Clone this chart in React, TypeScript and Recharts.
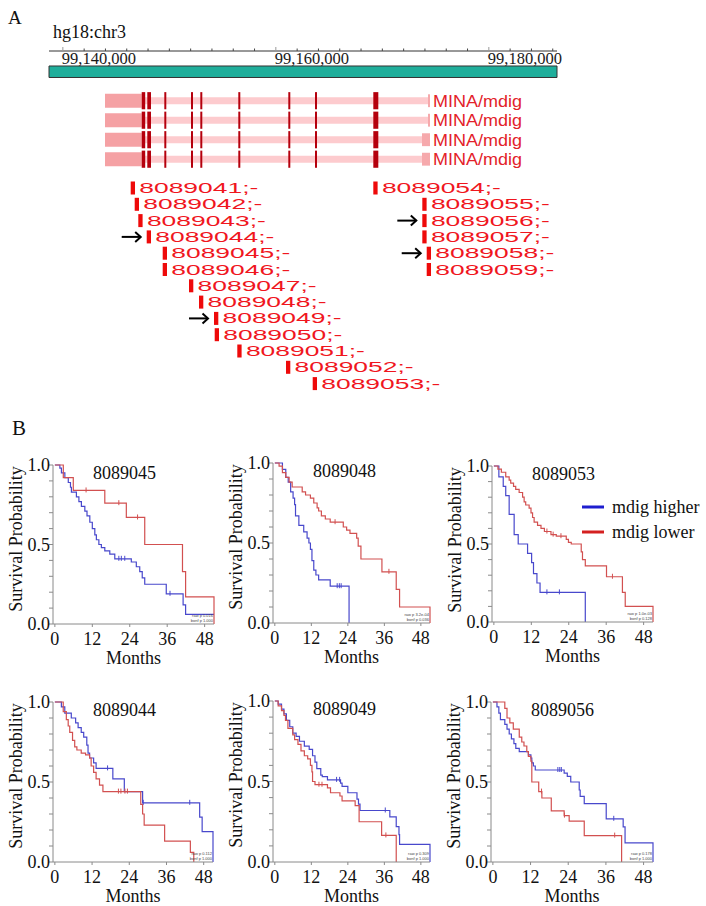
import React from 'react'
import { ComposedChart, Line, Scatter, XAxis, YAxis, ReferenceArea, Legend } from 'recharts'

const SERIF = '"Liberation Serif", "Times New Roman", serif'
const SANS = '"Liberation Sans", Arial, sans-serif'

// ---------------- panel A: genome browser ----------------
const regionStart = 99138700
const regionEnd = 99186400
const rulerTicks = [
  99140000, 99142000, 99144000, 99146000, 99148000, 99150000, 99152000, 99154000,
  99156000, 99158000, 99160000, 99162000, 99164000, 99166000, 99168000, 99170000,
  99172000, 99174000, 99176000, 99178000, 99180000, 99182000, 99184000, 99186000,
]
const rulerLabels = [99140000, 99160000, 99180000]

const txRows = [0, 1, 2, 3]
const txName = 'MINA/mdig'
const txIntron = [99147405, 99174288]
const txUtr5 = [99143958, 99147405]
const txUtr3 = [
  [99174288, 99174476],
  [99174288, 99174476],
  [99173724, 99174476],
  [99173724, 99174476],
]
const txExons = [
  [99147405, 99147733],
  [99147930, 99148278],
  [99149527, 99149715],
  [99152034, 99152222],
  [99152907, 99153095],
  [99156475, 99156663],
  [99161170, 99161358],
  [99163677, 99163865],
  [99169152, 99169622],
]

const probeIds = [
  '8089041', '8089042', '8089043', '8089044', '8089045', '8089046', '8089047',
  '8089048', '8089049', '8089050', '8089051', '8089052', '8089053',
  '8089054', '8089055', '8089056', '8089057', '8089058', '8089059',
]
const probeStart = [
  99146372, 99146747, 99147085, 99147874, 99149376, 99149376, 99151846,
  99152785, 99154194, 99154259, 99156381, 99160954, 99163461,
  99169152, 99173753, 99173753, 99173753, 99174166, 99174166,
]
const probeRow = [0, 1, 2, 3, 4, 5, 6, 7, 8, 9, 10, 11, 12, 0, 1, 2, 3, 4, 5]
const arrowProbes = ['8089044', '8089049', '8089056', '8089058']

// ---------------- panel B: Kaplan-Meier curves ----------------
const groupNames = ['mdig higher', 'mdig lower']
const curveColors = ['#4848cc', '#d25050']
const legendColors = ['#1e1ecf', '#d42020']
const monthTicks = [0, 12, 24, 36, 48]
const probTicks = [0, 0.1, 0.2, 0.3, 0.4, 0.5, 0.6, 0.7, 0.8, 0.9, 1]
const probLabels = ['0.0', '', '', '', '', '0.5', '', '', '', '', '1.0']

const km8089045 = {
  higher: [[0, 1], [1.6, 0.98], [2.1, 0.95], [3.2, 0.92], [4.3, 0.89], [5.0, 0.86], [5.3, 0.83], [6.9, 0.8], [7.7, 0.77], [8.5, 0.74], [9.6, 0.71], [10.3, 0.68], [11.2, 0.64], [12.0, 0.6], [12.8, 0.56], [13.3, 0.53], [14.1, 0.5], [14.9, 0.48], [16.0, 0.46], [17.6, 0.44], [19.2, 0.41], [24.5, 0.39], [26.1, 0.36], [27.2, 0.33], [28.0, 0.29], [28.8, 0.25], [35.7, 0.19], [41.1, 0.12], [41.9, 0.06], [51, 0.06]],
  lower: [[0, 1], [2.7, 0.92], [5.9, 0.84], [16.0, 0.76], [22.9, 0.67], [28.8, 0.5], [40.9, 0.33], [41.9, 0.17], [51, 0.17], [51, 0]],
  censHigher: [20.5, 21.3, 22.4, 36.9],
  censLower: [10, 20.5, 26.5],
}
const km8089048 = {
  higher: [[0, 1], [2.5, 0.96], [3.6, 0.91], [4.4, 0.88], [5.2, 0.82], [6.0, 0.78], [6.5, 0.74], [6.8, 0.67], [7.9, 0.61], [9.5, 0.57], [10.6, 0.53], [11.2, 0.5], [11.7, 0.46], [12.2, 0.39], [12.8, 0.33], [13.5, 0.3], [14.4, 0.27], [18.2, 0.23], [24.4, 0.23], [24.4, 0]],
  lower: [[0, 1], [1.4, 0.98], [2.5, 0.94], [3.6, 0.91], [4.7, 0.88], [5.7, 0.85], [9.0, 0.82], [10.1, 0.8], [11.7, 0.78], [12.8, 0.75], [13.9, 0.72], [14.4, 0.7], [15.3, 0.67], [16.6, 0.65], [18.2, 0.63], [22.5, 0.6], [23.6, 0.58], [24.7, 0.56], [26.9, 0.53], [27.4, 0.48], [28.3, 0.4], [35.2, 0.32], [39.9, 0.21], [41.0, 0.1], [51, 0.1], [51, 0]],
  censHigher: [20.5, 21.2, 21.8],
  censLower: [19.8, 37.5],
}
const km8089053 = {
  higher: [[0, 1], [1.6, 0.93], [3.0, 0.87], [3.8, 0.81], [4.9, 0.69], [6.5, 0.56], [7.8, 0.5], [10.8, 0.44], [12.1, 0.38], [12.7, 0.31], [13.8, 0.25], [14.8, 0.19], [29.3, 0.19], [29.3, 0]],
  lower: [[0, 1], [1.3, 0.98], [2.4, 0.96], [3.8, 0.93], [4.9, 0.91], [5.4, 0.89], [6.3, 0.87], [7.0, 0.85], [8.1, 0.83], [9.2, 0.8], [9.7, 0.77], [10.2, 0.75], [11.3, 0.73], [11.9, 0.7], [12.4, 0.67], [12.9, 0.64], [14.0, 0.62], [15.1, 0.6], [16.2, 0.58], [18.3, 0.56], [20.0, 0.55], [23.2, 0.53], [23.9, 0.51], [24.8, 0.5], [28.0, 0.45], [28.4, 0.4], [29.3, 0.36], [36.1, 0.29], [41.2, 0.19], [42.1, 0.1], [51, 0.1], [51, 0]],
  censHigher: [17, 21],
  censLower: [17, 19, 21.5, 38],
}
const km8089044 = {
  higher: [[0, 1], [2.1, 0.97], [3.2, 0.93], [5.3, 0.9], [6.7, 0.87], [7.5, 0.84], [8.5, 0.81], [9.3, 0.78], [10.3, 0.73], [10.7, 0.68], [11.2, 0.65], [12.5, 0.62], [13.3, 0.585], [18.7, 0.52], [22.4, 0.44], [28.3, 0.37], [46.7, 0.28], [47.5, 0.19], [51, 0.19], [51, 0]],
  lower: [[0, 1], [2.7, 0.94], [3.7, 0.89], [4.3, 0.85], [4.8, 0.81], [5.7, 0.76], [6.4, 0.72], [7.1, 0.7], [8.5, 0.68], [9.9, 0.67], [11.2, 0.65], [11.7, 0.6], [12.5, 0.56], [13.3, 0.52], [14.4, 0.48], [15.5, 0.44], [27.7, 0.36], [28.3, 0.3], [28.8, 0.23], [35.4, 0.13], [43.7, 0.06], [44.8, 0]],
  censHigher: [17, 28.5, 43.5],
  censLower: [20.5, 21.3, 22.6, 23.4],
}
const km8089049 = {
  higher: [[0, 1], [1.1, 0.98], [2.2, 0.95], [3.0, 0.92], [3.8, 0.88], [4.9, 0.84], [5.9, 0.8], [7.0, 0.78], [8.1, 0.75], [9.7, 0.72], [11.3, 0.7], [12.4, 0.66], [13.2, 0.62], [13.8, 0.58], [15.1, 0.54], [15.6, 0.53], [17.3, 0.51], [21.6, 0.49], [22.1, 0.47], [24.0, 0.43], [27.0, 0.39], [27.5, 0.36], [28.0, 0.32], [37.8, 0.28], [39.9, 0.22], [40.8, 0.17], [41.0, 0.11], [51, 0.11], [51, 0]],
  lower: [[0, 1], [1.1, 0.97], [2.2, 0.94], [3.0, 0.91], [3.5, 0.88], [4.3, 0.83], [5.9, 0.79], [6.5, 0.76], [7.6, 0.73], [8.6, 0.69], [9.7, 0.66], [10.8, 0.64], [11.7, 0.6], [12.2, 0.56], [12.4, 0.5], [13.2, 0.48], [17.3, 0.46], [18.3, 0.43], [21.4, 0.41], [22.1, 0.38], [26.4, 0.35], [27.7, 0.25], [35.1, 0.165], [39.9, 0]],
  censHigher: [20.3, 21.3, 36.3],
  censLower: [14.5, 15.5, 36.5],
}
const km8089056 = {
  higher: [[0, 1], [1.3, 0.97], [1.9, 0.93], [2.4, 0.89], [3.8, 0.86], [4.5, 0.83], [5.2, 0.8], [5.9, 0.77], [6.7, 0.74], [7.3, 0.71], [8.4, 0.69], [11.3, 0.67], [12.1, 0.65], [12.4, 0.62], [12.9, 0.6], [13.5, 0.575], [22.7, 0.555], [23.7, 0.535], [24.8, 0.5], [27.5, 0.45], [27.8, 0.41], [29.1, 0.365], [36.1, 0.27], [41.5, 0.22], [42.1, 0.12], [51, 0.12], [51, 0]],
  lower: [[0, 1], [3.8, 0.96], [4.5, 0.9], [5.4, 0.87], [6.5, 0.83], [8.4, 0.78], [9.2, 0.75], [9.9, 0.725], [10.8, 0.69], [11.3, 0.66], [12.1, 0.63], [12.4, 0.5], [14.6, 0.44], [15.6, 0.4], [18.6, 0.32], [22.7, 0.29], [24.3, 0.255], [29.1, 0.165], [41.0, 0]],
  censHigher: [20.7, 21.3, 21.8, 38.5],
  censLower: [15.5, 22.8, 38.8],
}

const kmPlots = [
  { id: '8089045', km: km8089045, pRaw: 'raw p 0.016', pBonf: 'bonf p 1.000' },
  { id: '8089048', km: km8089048, pRaw: 'raw p 3.2e-04', pBonf: 'bonf p 0.036' },
  { id: '8089053', km: km8089053, pRaw: 'raw p 1.0e-03', pBonf: 'bonf p 0.128', legend: true },
  { id: '8089044', km: km8089044, pRaw: 'raw p 0.112', pBonf: 'bonf p 1.000' },
  { id: '8089049', km: km8089049, pRaw: 'raw p 0.309', pBonf: 'bonf p 1.000' },
  { id: '8089056', km: km8089056, pRaw: 'raw p 0.178', pBonf: 'bonf p 1.000' },
]

// plot area of each small panel on the page (left/top of axes, width/height)
const kmBoxes = [
  { left: 53, top: 465, w: 161, h: 159 },
  { left: 273, top: 463, w: 157, h: 160 },
  { left: 492, top: 466, w: 161, h: 156 },
  { left: 53, top: 702, w: 160, h: 160 },
  { left: 273, top: 701, w: 157, h: 161 },
  { left: 491, top: 702, w: 162, h: 160 },
]

const stepAt = (curve: number[][], t: number) => {
  let s = curve[0][1]
  for (const [ct, cs] of curve) {
    if (ct <= t) s = cs
    else break
  }
  return s
}

// ---------------- panel A pieces ----------------
const RulerTick = (props: any) => {
  const { x, y, payload } = props
  const major = rulerLabels.includes(payload.value)
  return (
    <g>
      <line x1={x} x2={x} y1={y} y2={y - (major ? 4 : 2.5)} stroke={major ? '#9a9a9a' : '#444'} strokeWidth={1} />
      {major && (
        <text x={x - 1} y={y + 12.5} fontFamily={SERIF} fontSize={16.5} fill="#1a1a1a" textAnchor="start">
          {payload.value.toLocaleString('en-US')}
        </text>
      )}
    </g>
  )
}

const TxLabel = (p: any) => (
  <text x={p.cx + 3} y={p.cy + 6} fontFamily={SANS} fontSize={16} fill="#e3222a" textLength={89} lengthAdjust="spacingAndGlyphs">
    {p.payload.name}
  </text>
)

const ProbeMark = (p: any) => {
  const { cx, cy, payload } = p
  return (
    <g>
      {payload.arrow && (
        <g stroke="#000" strokeWidth={2} fill="none">
          <line x1={cx - 25} y1={cy} x2={cx - 6} y2={cy} />
          <polyline points={`${cx - 11.5},${cy - 5} ${cx - 6},${cy} ${cx - 11.5},${cy + 5}`} />
        </g>
      )}
      <rect x={cx} y={cy - 6.5} width={4.3} height={13} fill="#ee0a0a" />
      <text x={cx + 8.6} y={cy + 5} fontFamily={SANS} fontSize={14} fill="#f0161e" textLength={119} lengthAdjust="spacingAndGlyphs">
        {payload.id};-
      </text>
    </g>
  )
}

function GenomePanel() {
  const probeData = probeIds.map((id, i) => ({ x: probeStart[i], y: probeRow[i], id, arrow: arrowProbes.includes(id) }))
  const txLabelData = txRows.map((r) => ({ x: txUtr3[r][1], y: r, name: txName }))

  const areas: React.ReactNode[] = []
  txRows.forEach((r) => {
    areas.push(<ReferenceArea key={`in${r}`} yAxisId="tx" x1={txIntron[0]} x2={txIntron[1]} y1={r - 0.18} y2={r + 0.18} fill="#fdcbce" fillOpacity={1} />)
    areas.push(<ReferenceArea key={`u5${r}`} yAxisId="tx" x1={txUtr5[0]} x2={txUtr5[1]} y1={r - 0.36} y2={r + 0.36} fill="#f5a1a4" fillOpacity={1} />)
    areas.push(<ReferenceArea key={`u3${r}`} yAxisId="tx" x1={txUtr3[r][0]} x2={txUtr3[r][1]} y1={r - 0.33} y2={r + 0.33} fill="#f6a9ac" fillOpacity={1} />)
    txExons.forEach((e, k) => {
      areas.push(<ReferenceArea key={`ex${r}-${k}`} yAxisId="tx" x1={e[0]} x2={e[1]} y1={r - 0.44} y2={r + 0.44} fill="#b5000d" fillOpacity={1} />)
    })
  })

  return (
    <div style={{ position: 'absolute', left: 0, top: 0 }}>
      <ComposedChart width={706} height={400} margin={{ top: 31, right: 149, bottom: 0, left: 49 }}>
        <XAxis
          type="number"
          dataKey="x"
          orientation="top"
          domain={[regionStart, regionEnd]}
          ticks={rulerTicks}
          interval={0}
          height={20}
          tickSize={0}
          tickMargin={0}
          tickLine={false}
          axisLine={{ stroke: '#333' }}
          tick={<RulerTick />}
        />
        <YAxis yAxisId="tx" type="number" dataKey="y" hide reversed domain={[-2.549, 15.349]} />
        <YAxis yAxisId="pr" type="number" dataKey="y" hide reversed domain={[-8.405, 13.006]} />
        <ReferenceArea yAxisId="tx" x1={regionStart} x2={regionEnd} y1={-1.78} y2={-1.19} fill="#1fae9b" fillOpacity={1} stroke="#333" />
        {areas}
        <Scatter yAxisId="tx" data={txLabelData} shape={TxLabel} isAnimationActive={false} />
        <Scatter yAxisId="pr" data={probeData} shape={ProbeMark} isAnimationActive={false} />
      </ComposedChart>
    </div>
  )
}

// ---------------- panel B pieces ----------------
const YTitle = (props: any) => {
  const vb = props.viewBox
  if (!vb) return null
  const cx = vb.x + vb.width - 37
  const cy = vb.y + 74
  return (
    <text x={cx} y={cy} transform={`rotate(-90 ${cx} ${cy})`} textAnchor="middle" dominantBaseline="central" fontFamily={SERIF} fontSize={18} fill="#111">
      Survival Probability
    </text>
  )
}

const KMLegend = (props: any) => {
  const items = (props.payload || []).filter((e: any) => groupNames.includes(e.value))
  return (
    <div style={{ fontFamily: SERIF, fontSize: 18, color: '#111' }}>
      {items.map((e: any) => (
        <div key={e.value} style={{ display: 'flex', alignItems: 'center', height: 25, whiteSpace: 'nowrap' }}>
          <svg width={22} height={6} style={{ marginRight: 8 }}>
            <line x1={0} x2={22} y1={3} y2={3} stroke={legendColors[groupNames.indexOf(e.value)]} strokeWidth={3} />
          </svg>
          <span>{e.value}</span>
        </div>
      ))}
    </div>
  )
}

const censorShape = (color: string) => (p: any) => (
  <line x1={p.cx} x2={p.cx} y1={p.cy - 3} y2={p.cy + 2} stroke={color} strokeWidth={1} />
)

function KMPlot({ plot, box }: { plot: any; box: any }) {
  const ML = 53
  const MT = 14
  const XH = 54
  const MR = plot.legend ? 706 - (box.left + box.w) : 6
  const width = ML + box.w + MR
  const height = MT + box.h + XH
  const km = plot.km
  const higher = km.higher.map(([t, s]: number[]) => ({ t, s }))
  const lower = km.lower.map(([t, s]: number[]) => ({ t, s }))
  const censHigher = km.censHigher.map((t: number) => ({ t, s: stepAt(km.higher, t) }))
  const censLower = km.censLower.map((t: number) => ({ t, s: stepAt(km.lower, t) }))
  const fontTick = { fill: '#111', fontSize: 18, fontFamily: SERIF }

  return (
    <div style={{ position: 'absolute', left: box.left - ML, top: box.top - MT, width, height }}>
      <ComposedChart width={width} height={height} margin={{ top: MT, right: MR, bottom: 0, left: 0 }}>
        <XAxis
          type="number"
          dataKey="t"
          domain={[-0.6, 51]}
          ticks={monthTicks}
          interval={0}
          height={XH}
          tickSize={3}
          tickMargin={5}
          stroke="#8a8a8a"
          tick={fontTick}
          label={{ value: 'Months', position: 'insideBottom', offset: 14, fill: '#111', fontSize: 18, fontFamily: SERIF }}
        />
        <YAxis
          type="number"
          dataKey="s"
          domain={[0, 1]}
          ticks={probTicks}
          interval={0}
          width={ML}
          tickSize={4}
          tickMargin={-1}
          stroke="#8a8a8a"
          tick={fontTick}
          tickFormatter={(v: number, i: number) => probLabels[i] ?? ''}
          label={<YTitle />}
        />
        <Line data={higher} dataKey="s" type="stepAfter" name={groupNames[0]} stroke={curveColors[0]} strokeWidth={1.2} dot={false} isAnimationActive={false} />
        <Line data={lower} dataKey="s" type="stepAfter" name={groupNames[1]} stroke={curveColors[1]} strokeWidth={1.2} dot={false} isAnimationActive={false} />
        <Scatter data={censHigher} shape={censorShape(curveColors[0])} legendType="none" isAnimationActive={false} />
        <Scatter data={censLower} shape={censorShape(curveColors[1])} legendType="none" isAnimationActive={false} />
        {plot.legend && (
          <Legend
            layout="vertical"
            align="center"
            verticalAlign="middle"
            content={<KMLegend />}
            wrapperStyle={{ left: 143, top: 28.5 + MT, width: 130, height: 50 }}
          />
        )}
      </ComposedChart>
      <svg width={width} height={height} style={{ position: 'absolute', left: 0, top: 0, pointerEvents: 'none' }}>
        <text x={ML + 40} y={MT + 14} fontFamily={SERIF} fontSize={18} fill="#111">
          {plot.id}
        </text>
        <text x={ML + box.w - 1} y={MT + box.h - 7} fontFamily={SANS} fontSize={4} fill="#444" textAnchor="end">
          {plot.pRaw}
        </text>
        <text x={ML + box.w - 1} y={MT + box.h - 2.5} fontFamily={SANS} fontSize={4} fill="#444" textAnchor="end">
          {plot.pBonf}
        </text>
      </svg>
    </div>
  )
}

export default function App() {
  return (
    <div style={{ position: 'absolute', left: 0, top: 0, width: 706, height: 906, background: '#fff', overflow: 'hidden' }}>
      <GenomePanel />
      {kmPlots.map((p, i) => (
        <KMPlot key={p.id} plot={p} box={kmBoxes[i]} />
      ))}
      <svg width={706} height={906} style={{ position: 'absolute', left: 0, top: 0, pointerEvents: 'none' }}>
        <text x={8} y={23.5} fontFamily={SERIF} fontSize={19} fill="#111">A</text>
        <text x={53} y={37.5} fontFamily={SERIF} fontSize={18} fill="#111">hg18:chr3</text>
        <text x={12} y={435} fontFamily={SERIF} fontSize={21} fill="#111">B</text>
      </svg>
    </div>
  )
}
